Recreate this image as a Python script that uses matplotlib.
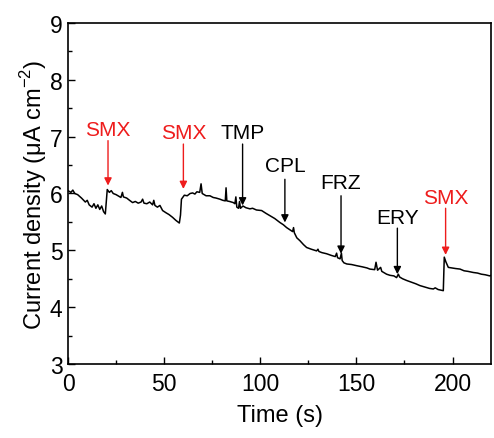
import matplotlib
matplotlib.use("Agg")
import matplotlib.pyplot as plt
from matplotlib.ticker import MultipleLocator

plt.rcParams['font.family'] = ['Liberation Sans', 'DejaVu Sans']
plt.rcParams['mathtext.fontset'] = 'custom'
plt.rcParams['mathtext.rm'] = 'Liberation Sans'

# trace: time (s), current density (uA cm^-2)
time_s = [0.0, 1.5, 2.5, 3.5, 5.0, 7.0, 9.0, 10.0, 11.0, 12.5, 13.5, 14.5, 15.5, 16.5,
          17.5, 18.5, 19.4, 20.0, 20.4, 21.5, 22.5, 23.5, 25.0, 26.5, 27.5, 28.3, 28.8,
          30.5, 32.0, 33.6, 35.0, 36.5, 38.0, 38.8, 39.5, 41.0, 42.5, 44.0, 44.6, 45.2,
          46.5, 47.8, 49.2, 51.0, 52.5, 54.4, 56.0, 57.9, 58.5, 59.0, 60.5, 62.0, 63.5,
          64.8, 66.0, 67.0, 68.5, 69.2, 69.8, 71.8, 73.8, 75.5, 77.0, 79.0, 80.5, 81.8,
          82.2, 82.6, 84.0, 86.0, 86.8, 87.3, 87.8, 88.7, 89.2, 89.7, 91.0, 92.5, 94.6,
          96.0, 98.0, 100.7, 103.0, 105.0, 107.5, 110.2, 112.0, 113.7, 115.5, 116.8,
          117.3, 117.7, 119.0, 120.6, 122.5, 124.1, 126.5, 129.3, 130.0, 130.5, 132.0,
          134.5, 137.0, 139.0, 139.7, 140.2, 141.5, 142.2, 142.6, 143.5, 145.0, 147.5,
          150.1, 153.0, 155.5, 157.0, 159.5, 160.2, 161.0, 162.6, 163.2, 165.7, 167.5,
          169.5, 170.9, 171.8, 172.5, 174.0, 176.1, 178.5, 181.0, 183.0, 186.0, 188.0,
          190.0, 191.0, 192.5, 195.2, 195.7, 196.5, 197.8, 199.5, 201.5, 203.9, 206.0,
          208.0, 210.8, 213.0, 215.0, 217.0, 219.4, 220.0]
current = [6.05, 6.02, 6.06, 6.00, 5.98, 5.92, 5.85, 5.88, 5.80, 5.76, 5.82, 5.74, 5.80, 5.72,
           5.78, 5.68, 5.64, 5.90, 6.07, 6.02, 6.05, 6.00, 5.98, 5.95, 5.93, 6.02, 5.94,
           5.92, 5.88, 5.84, 5.86, 5.83, 5.85, 5.90, 5.83, 5.82, 5.85, 5.80, 5.88, 5.79,
           5.76, 5.79, 5.70, 5.66, 5.63, 5.58, 5.53, 5.48, 5.62, 5.90, 5.97, 5.96, 6.00,
           6.01, 5.99, 6.03, 6.02, 6.17, 6.00, 5.96, 5.96, 5.93, 5.92, 5.90, 5.88, 5.87,
           6.10, 5.87, 5.86, 5.84, 5.82, 5.94, 5.76, 5.74, 5.86, 5.74, 5.78, 5.75, 5.73,
           5.74, 5.71, 5.70, 5.65, 5.61, 5.56, 5.49, 5.45, 5.40, 5.36, 5.33,
           5.40, 5.31, 5.22, 5.17, 5.10, 5.05, 5.02, 4.99, 5.02, 4.98, 4.96,
           4.94, 4.91, 4.89, 4.95, 4.87, 4.85, 4.95, 4.82, 4.78, 4.76, 4.75,
           4.73, 4.71, 4.69, 4.67, 4.66, 4.79, 4.65, 4.70, 4.63, 4.58, 4.56,
           4.55, 4.52, 4.58, 4.53, 4.50, 4.47, 4.44, 4.41, 4.38, 4.35, 4.33,
           4.32, 4.34, 4.31, 4.29, 4.88, 4.80, 4.70, 4.69, 4.68, 4.67, 4.64,
           4.63, 4.61, 4.60, 4.58, 4.57, 4.55, 4.56]

# injection markers: label, time, label height, arrow tail, arrow tip, colour
labels = ['SMX', 'SMX', 'TMP', 'CPL', 'FRZ', 'ERY', 'SMX']
label_t = [20.8, 60.0, 90.8, 112.8, 142.0, 171.3, 196.4]
label_y = [7.13, 7.08, 7.08, 6.49, 6.20, 5.58, 5.93]
tail_y = [6.93, 6.87, 6.87, 6.25, 5.96, 5.39, 5.74]
tip_y = [6.14, 6.08, 5.79, 5.49, 4.94, 4.58, 4.92]
label_col = ['#ee1c1c', '#ee1c1c', 'black', 'black', 'black', 'black', '#ee1c1c']

fig = plt.figure(figsize=(4.94, 4.39), dpi=100)
ax = fig.add_axes([0.1377, 0.1686, 0.8562, 0.7767])

ax.plot(time_s, current, color='black', lw=1.1)

for lab, t, ly, ty, hy, c in zip(labels, label_t, label_y, tail_y, tip_y, label_col):
    ax.text(t, ly, lab, color=c, fontsize=15, ha='center', va='center')
    ax.annotate('', xy=(t, hy), xytext=(t, ty),
                arrowprops=dict(arrowstyle='-|>', color=c, lw=1.0,
                                mutation_scale=11, shrinkA=0, shrinkB=0))

ax.set_xlim(0, 220)
ax.set_ylim(3, 9)
ax.xaxis.set_major_locator(MultipleLocator(50))
ax.xaxis.set_minor_locator(MultipleLocator(25))
ax.yaxis.set_major_locator(MultipleLocator(1))
ax.yaxis.set_minor_locator(MultipleLocator(0.5))
ax.tick_params(which='both', direction='in', top=False, right=False,
               labelsize=16.5, width=1.0)
ax.tick_params(which='major', length=5)
ax.tick_params(axis='x', which='major', pad=6)
ax.tick_params(axis='y', which='major', pad=4)
ax.tick_params(which='minor', length=3)
for s in ax.spines.values():
    s.set_linewidth(1.2)

ax.set_xlabel('Time (s)', fontsize=17, labelpad=6)
ax.set_ylabel('Current density (μA cm$^{-2}$)', fontsize=17, labelpad=0.5)

fig.savefig('out.png', dpi=100)
